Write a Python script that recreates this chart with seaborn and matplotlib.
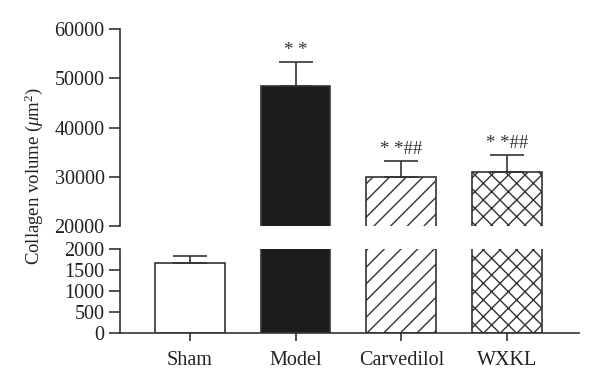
import matplotlib
matplotlib.use("Agg")
import matplotlib.pyplot as plt
import seaborn as sns
import pandas as pd

categories = ["Sham", "Model", "Carvedilol", "WXKL"]
means = [1670, 48500, 30000, 31000]
errors = [170, 4900, 3150, 3400]
labels_sig = ["", "* *", "* *##", "* *##"]
top_ticks = [20000, 30000, 40000, 50000, 60000]
bottom_ticks = [0, 500, 1000, 1500, 2000]

sns.set_style("white")
plt.rcParams["font.family"] = ["Liberation Serif", "DejaVu Serif"]
plt.rcParams["mathtext.fontset"] = "custom"
plt.rcParams["mathtext.it"] = "Liberation Serif:italic"
plt.rcParams["mathtext.rm"] = "Liberation Serif"
plt.rcParams["hatch.linewidth"] = 1.0
plt.rcParams["hatch.color"] = "#222222"

df = pd.DataFrame({"group": categories, "value": means})
fig = plt.figure(figsize=(6, 3.87), dpi=100)
ax_top = fig.add_axes([0.2, 0.416, 0.765, 0.509])
ax_bot = fig.add_axes([0.2, 0.140, 0.765, 0.217])

faces = ["white", "#1c1c1c", "white", "white"]
hatches = ["", "", "//", "xx"]
edge = "#333333"
tcol = "#222222"

for ax in (ax_top, ax_bot):
    sns.barplot(data=df, x="group", y="value", ax=ax, width=0.66,
                color="white", edgecolor=edge, linewidth=1.2, errorbar=None)
    for patch, fc, h in zip(ax.patches, faces, hatches):
        patch.set_facecolor(fc)
        patch.set_hatch(h)
        patch.set_edgecolor(edge)
    ax.errorbar(range(len(categories)), means,
                yerr=[[0] * len(errors), errors], fmt="none",
                ecolor=edge, elinewidth=1.2, capsize=12.5, capthick=1.2)
    ax.set_xlim(-0.66, 3.68)
    ax.set_xlabel("")
    ax.set_ylabel("")
    for s in ["top", "right"]:
        ax.spines[s].set_visible(False)
    ax.spines["left"].set_color(edge)
    ax.spines["left"].set_linewidth(1.2)
    ax.tick_params(axis="y", direction="out", length=8, width=1.2,
                   color=edge, labelsize=14.5, labelcolor=tcol, left=True,
                   pad=3)

ax_top.set_ylim(20000, 60000)
ax_top.set_yticks(top_ticks)
ax_top.spines["bottom"].set_visible(False)
ax_top.set_xticks([])

ax_bot.set_ylim(0, 2000)
ax_bot.set_yticks(bottom_ticks)
ax_bot.spines["bottom"].set_color(edge)
ax_bot.spines["bottom"].set_linewidth(1.2)
ax_bot.tick_params(axis="x", direction="out", length=6, width=1.2,
                   color=edge, labelsize=14.5, labelcolor=tcol,
                   bottom=True, pad=7)

for i, (m, e, t) in enumerate(zip(means, errors, labels_sig)):
    if t:
        ax_top.annotate(t, xy=(i, m + e), xytext=(0, 2),
                        textcoords="offset points", ha="center", va="bottom",
                        fontsize=13.5, color="#333333")

fig.text(0.057, 0.545, r"Collagen volume ($\mu$m$^2$)", rotation=90,
         ha="center", va="center", fontsize=13.5, color=tcol)

fig.savefig("out.png", dpi=100)
